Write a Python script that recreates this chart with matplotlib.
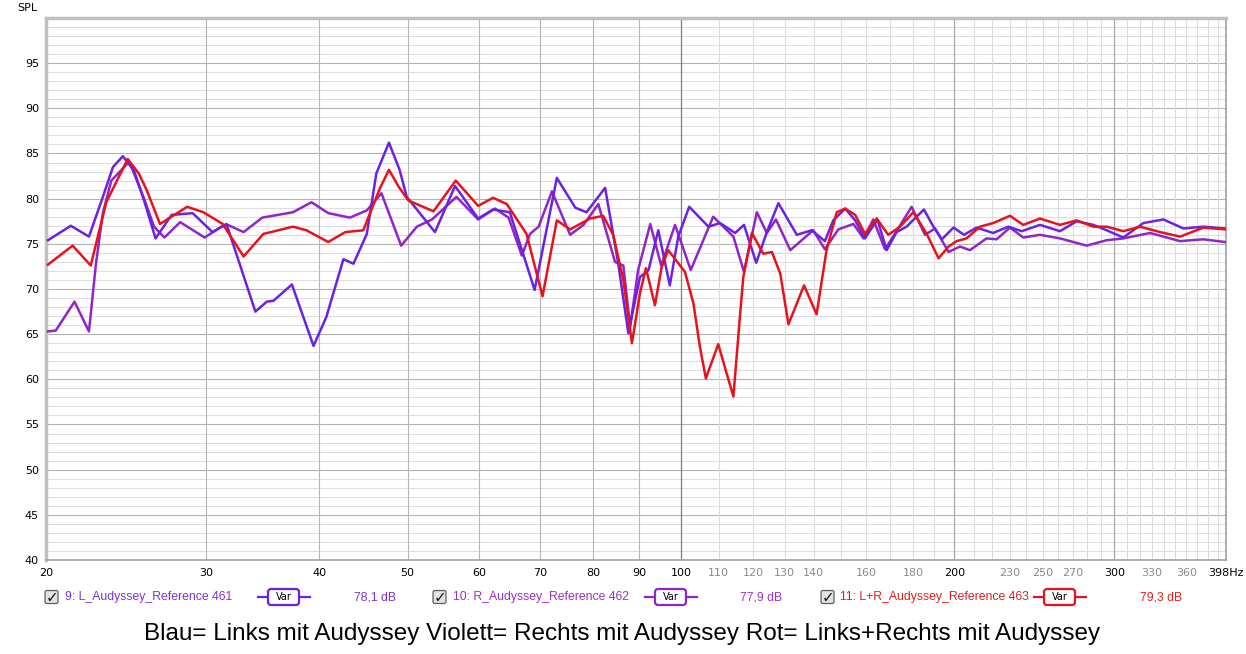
import matplotlib
matplotlib.use('Agg')
import matplotlib.pyplot as plt
from matplotlib.patches import FancyBboxPatch

# (Hz, dB SPL)
l_freq = [20.1, 21.3, 22.3, 23.1, 23.7, 24.3, 25.0, 25.7, 26.4, 27.5, 29.0, 30.5, 31.6,
          34.0, 35.0, 35.6, 37.3, 39.4, 40.7, 42.5, 43.6, 45.1, 46.2, 47.7, 49.0, 49.9,
          53.6, 56.4, 59.8, 62.1, 64.8, 69.0, 73.0, 76.5, 78.7, 82.5, 85.3, 87.5, 90.1,
          92.1, 94.4, 97.2, 99.3, 102.1, 107.2, 110.4, 114.7, 117.3, 121.0, 124.3, 128.0,
          134.1, 139.3, 144.0, 147.1, 151.6, 155.5, 159.4, 164.5, 168.4, 172.7, 177.1,
          185.1, 189.6, 193.7, 199.5, 204.9, 211.5, 220.6, 229.2, 237.1, 248.4, 261.3,
          272.6, 284.3, 294.1, 306.8, 322.8, 339.6, 357.3, 375.9, 397.0]
l_spl = [75.4, 77.0, 75.8, 80.2, 83.5, 84.7, 83.1, 79.5, 75.6, 78.2, 78.4, 76.3, 77.2,
         67.5, 68.6, 68.7, 70.5, 63.7, 66.9, 73.3, 72.8, 76.1, 82.8, 86.2, 83.2, 80.2,
         76.3, 81.4, 77.8, 78.8, 78.5, 69.9, 82.3, 79.0, 78.5, 81.2, 72.8, 65.1, 71.3,
         72.1, 76.5, 70.4, 75.8, 79.1, 76.9, 77.3, 76.2, 77.1, 72.9, 76.3, 79.5,
         76.0, 76.5, 75.3, 77.6, 78.9, 77.6, 75.6, 77.7, 74.3, 76.3, 76.9,
         78.8, 76.9, 75.5, 76.8, 76.0, 76.8, 76.2, 76.9, 76.4, 77.1, 76.4,
         77.5, 77.1, 76.5, 75.7, 77.3, 77.7, 76.7, 76.9, 76.7]

r_freq = [20.1, 20.5, 21.5, 22.3, 22.7, 23.1, 23.6, 24.7, 25.6, 26.3, 27.0, 28.1, 29.9,
          31.2, 31.7, 33.0, 34.6, 37.4, 39.2, 40.9, 43.2, 45.1, 46.8, 49.2, 51.2, 53.2,
          56.6, 59.8, 62.4, 64.6, 66.8, 68.2, 69.7, 72.1, 75.5, 78.1, 81.1, 84.6, 86.4,
          87.9, 89.7, 92.5, 95.1, 98.5, 102.5, 108.5, 114.2, 117.3, 121.2, 124.3, 127.2,
          131.9, 139.8, 144.0, 149.0, 154.8, 158.8, 162.8, 167.7, 171.2, 179.4, 185.6,
          190.4, 197.0, 202.8, 208.0, 216.9, 222.5, 230.2, 238.1, 248.4, 261.3, 279.6,
          294.1, 306.8, 328.3, 354.3, 375.9, 397.0]
r_spl = [65.3, 65.4, 68.6, 65.3, 72.8, 78.4, 82.0, 84.1, 80.2, 76.9, 75.7, 77.4, 75.7,
         76.9, 77.1, 76.3, 77.9, 78.5, 79.6, 78.4, 77.9, 78.7, 80.6, 74.8, 76.9, 77.7,
         80.2, 77.7, 78.9, 77.9, 73.7, 76.1, 76.9, 80.8, 76.0, 77.1, 79.4, 73.0, 72.6,
         65.8, 72.1, 77.2, 72.6, 77.1, 72.1, 78.0, 75.8, 71.9, 78.5, 76.2, 77.7,
         74.3, 76.5, 74.4, 76.6, 77.2, 75.6, 77.7, 74.4, 75.8, 79.1, 76.0,
         76.7, 74.1, 74.7, 74.3, 75.6, 75.5, 76.8, 75.7, 76.0, 75.6, 74.8,
         75.4, 75.6, 76.2, 75.3, 75.5, 75.2]

lr_freq = [20.1, 21.4, 22.4, 23.3, 24.6, 25.3, 25.8, 26.7, 28.6, 29.8, 31.3, 33.0, 34.7,
           37.4, 38.7, 40.9, 42.7, 44.7, 46.6, 47.7, 48.9, 50.1, 53.4, 56.5, 59.8, 62.1,
           64.3, 67.6, 70.4, 73.0, 75.5, 79.4, 82.1, 84.2, 86.4, 88.3, 90.1, 91.5, 93.6,
           95.2, 96.8, 101.0, 103.2, 104.9, 106.5, 109.9, 112.0, 114.2, 116.0, 117.1, 119.7,
           123.2, 125.9, 128.6, 131.3, 136.6, 141.0, 144.6, 148.4, 151.6, 155.5, 159.4,
           164.2, 169.1, 174.2, 180.2, 186.4, 192.1, 197.0, 201.1, 206.2, 213.3, 220.6,
           230.2, 238.1, 248.4, 261.3, 272.6, 284.3, 294.1, 306.8, 320.1, 336.8, 354.3,
           375.9, 397.0]
lr_spl = [72.7, 74.8, 72.6, 79.6, 84.4, 82.8, 81.0, 77.2, 79.1, 78.5, 77.2, 73.6, 76.1,
          76.9, 76.5, 75.2, 76.3, 76.5, 81.1, 83.2, 81.3, 79.8, 78.6, 82.0, 79.2, 80.1,
          79.4, 76.1, 69.2, 77.6, 76.6, 77.8, 78.1, 76.0, 71.0, 64.0, 69.5, 72.3, 68.2,
          72.4, 74.3, 71.9, 68.4, 63.6, 60.1, 63.9, 61.0, 58.1, 66.5, 71.3, 76.2,
          73.9, 74.1, 71.7, 66.1, 70.4, 67.2, 74.3, 78.5, 78.9, 78.2, 76.1,
          77.8, 76.0, 76.9, 78.5, 76.1, 73.4, 74.7, 75.3, 75.6, 76.9, 77.3,
          78.1, 77.1, 77.8, 77.1, 77.6, 76.9, 76.9, 76.4, 76.9, 76.3, 75.8,
          76.8, 76.6]

legend_names = ['9: L_Audyssey_Reference 461', '10: R_Audyssey_Reference 462',
                '11: L+R_Audyssey_Reference 463']
legend_levels = ['78,1 dB', '77,9 dB', '79,3 dB']
caption = 'Blau= Links mit Audyssey Violett= Rechts mit Audyssey Rot= Links+Rechts mit Audyssey'

x_labels_dark = [20, 30, 40, 50, 60, 70, 80, 90, 100, 200, 300]
x_labels_light = [110, 120, 130, 140, 160, 180, 230, 250, 270, 330, 360]

colors = ['#6a22e4', '#9126c6', '#e8121c']
text_colors = ['#7a34d6', '#9a30c4', '#e02020']


def legend_item(ov, x_box, x_text, x_var, x_level, y, idx):
    # checkbox
    ov.add_patch(FancyBboxPatch((x_box, y - 6.5), 13, 13, boxstyle='round,pad=0,rounding_size=2',
                                fc='#e2e2e2', ec='#5e5e5e', lw=0.9))
    ov.text(x_box + 7, y + 0.5, '\u2713', ha='center', va='center', fontsize=11,
            fontweight='bold', color='#181818')
    ov.text(x_text, y, legend_names[idx], ha='left', va='center', fontsize=8.8,
            family='Liberation Sans', color=text_colors[idx])
    # "Var" swatch
    ov.plot([x_var, x_var + 52], [y, y], color=colors[idx], lw=1.6)
    ov.add_patch(FancyBboxPatch((x_var + 10, y - 8), 31, 16, boxstyle='round,pad=0,rounding_size=3',
                                fc='white', ec=colors[idx], lw=1.6, zorder=3))
    ov.text(x_var + 25.5, y, 'Var', ha='center', va='center', fontsize=7, color='black', zorder=4)
    ov.text(x_level, y, legend_levels[idx], ha='left', va='center', fontsize=8.8,
            family='Liberation Sans', color=text_colors[idx])


fig = plt.figure(figsize=(12.46, 6.54), dpi=100)
ax = fig.add_axes([46 / 1246, 1 - 560 / 654, 1180 / 1246, 542 / 654])

ax.set_xscale('log')
ax.set_xlim(20, 398)
ax.set_ylim(40, 100)

# grid like REW
for db in range(41, 100):
    ax.axhline(db, color='#b2b2b2' if db % 5 == 0 else '#dedede', lw=0.8, zorder=0)
for f in range(20, 100, 10):
    ax.axvline(f, color='#b6b6b6', lw=0.8, zorder=0)
for f in range(110, 398, 10):
    if f in (200, 300):
        ax.axvline(f, color='#a8a8a8', lw=0.9, zorder=0)
    else:
        ax.axvline(f, color='#dcdcdc', lw=0.8, zorder=0)
ax.axvline(100, color='#7c7c7c', lw=0.9, zorder=0)

ax.plot(r_freq, r_spl, color=colors[1], lw=1.8, solid_joinstyle='round', zorder=3)
ax.plot(l_freq, l_spl, color=colors[0], lw=1.8, solid_joinstyle='round', zorder=4)
ax.plot(lr_freq, lr_spl, color=colors[2], lw=1.8, solid_joinstyle='round', zorder=5)

ax.set_yticks(range(40, 100, 5))
ax.set_yticklabels([str(v) for v in range(40, 100, 5)])
ax.set_xticks(x_labels_dark + [398])
ax.set_xticklabels([str(v) for v in x_labels_dark] + ['398Hz'])
ax.set_xticks(x_labels_light, minor=True)
ax.set_xticklabels([str(v) for v in x_labels_light], minor=True)
ax.tick_params(axis='both', which='both', length=0, labelsize=8)
ax.tick_params(axis='x', which='both', pad=6)
ax.tick_params(axis='y', pad=5)
ax.tick_params(axis='x', which='minor', labelcolor='#8a8a8a')
for spine in ax.spines.values():
    spine.set_color('#a0a0a0')
    spine.set_linewidth(1.2)
ax.spines['left'].set_linewidth(2.5)
ax.spines['left'].set_color('#c0c0c0')
ax.spines['top'].set_linewidth(2.5)
ax.spines['top'].set_color('#c0c0c0')

# overlay in pixel coordinates for labels and legend row
ov = fig.add_axes([0, 0, 1, 1])
ov.set_xlim(0, 1246)
ov.set_ylim(654, 0)
ov.set_axis_off()

ov.text(17, 8, 'SPL', ha='left', va='center', fontsize=8)

legend_item(ov, 45, 65, 258, 354, 597, 0)
legend_item(ov, 433, 453, 645, 740, 597, 1)
legend_item(ov, 821, 840, 1034, 1140, 597, 2)

ov.text(622, 634, caption, ha='center', va='center', fontsize=17.5,
        family='Liberation Sans', color='black')

fig.savefig('out.png', dpi=100)
